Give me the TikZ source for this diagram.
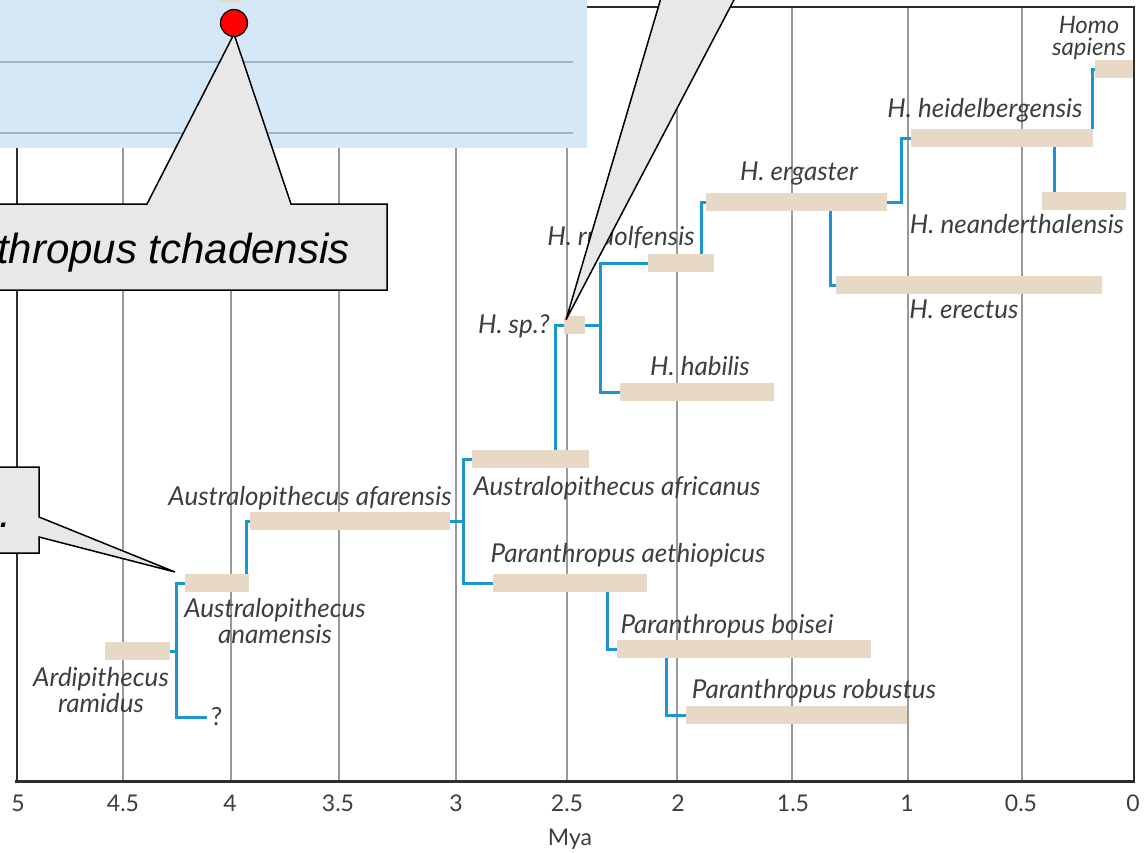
\documentclass[tikz,border=0pt]{standalone}
\usepackage{fontspec}
\setmainfont{Lato}
\newfontfamily\calloutfont{Liberation Sans}
\definecolor{barTan}{RGB}{231,217,197}
\definecolor{linkBlue}{RGB}{27,150,210}
\definecolor{panelBlue}{RGB}{213,232,247}
\definecolor{panelLine}{RGB}{160,180,196}
\definecolor{calloutGray}{RGB}{232,232,232}
\definecolor{labelGray}{RGB}{62,62,62}
\definecolor{frameGray}{RGB}{45,45,45}

\begin{document}
\begin{tikzpicture}[x=1pt,y=-1pt,
bar/.style={fill=barTan,inner sep=0pt,minimum height=18,anchor=west},
link/.style={draw=linkBlue,line width=3pt},
species/.style={labelGray,font=\itshape\fontsize{26}{26}\selectfont,inner sep=0pt,anchor=base},
twoline/.style={species,anchor=center,align=center},
tick/.style={labelGray,font=\fontsize{23}{26}\selectfont,inner sep=0pt,anchor=base},
grid line/.style={draw=gray!80,line width=1.2pt},
callout/.style={fill=calloutGray,draw=black,line width=1.5pt,line join=miter},
callout text/.style={font=\calloutfont\itshape\fontsize{42}{48}\selectfont,inner sep=0pt,anchor=base west}]
\useasboundingbox (0,0) rectangle (1144,852);

% time axis and frame
\foreach \x in {123,231,339,456,567,677,792,908,1022}
  \draw[grid line] (\x,7) -- (\x,781);
\draw[frameGray,line width=2pt] (17,781) -- (17,7) -- (1134,7) -- (1134,781);
\draw[frameGray,line width=3pt] (15,781) -- (1135,781);
\foreach \x/\v [count=\i] in {18/5,123/4.5,230/4,338/3.5,456/3,567/2.5,678/2,793/1.5,907/1,1021/0.5,1133/0}
  \node[tick] (tick\i) at (\x,811) {\v};
\node[tick] (mya) at (570,845) {Mya};

% panel in the top left corner
\fill[panelBlue] (0,0) rectangle (587,148);
\foreach \y in {62,133}
  \draw[panelLine,line width=2.5pt] (0,\y) -- (573,\y);
\fill[barTan] (218,0) rectangle (241,2);

% species ranges
\node[bar,minimum width=65] (ramidus) at (105,651) {};
\node[bar,minimum width=64] (anamensis) at (185,583) {};
\node[bar,minimum width=200] (afarensis) at (250,521) {};
\node[bar,minimum width=117] (africanus) at (472,459) {};
\node[bar,minimum width=154] (aethiopicus) at (493,583) {};
\node[bar,minimum width=254] (boisei) at (617,649) {};
\node[bar,minimum width=221] (robustus) at (686,715) {};
\node[bar,minimum width=21] (hsp) at (564,325) {};
\node[bar,minimum width=154] (habilis) at (620,392) {};
\node[bar,minimum width=66] (rudolfensis) at (648,263) {};
\node[bar,minimum width=181] (ergaster) at (706,202) {};
\node[bar,minimum width=182] (heidelbergensis) at (911,138) {};
\node[bar,minimum width=38] (sapiens) at (1095,69) {};
\node[bar,minimum width=84] (neanderthalensis) at (1042,201) {};
\node[bar,minimum width=266] (erectus) at (836,285) {};
\node[species,anchor=west,font=\fontsize{25}{25}\selectfont] (unknown) at (211,717) {?};

% branches
\coordinate (ardiFork) at (176,651);
\draw[link] (ramidus.east) -- (ardiFork);
\draw[link] (ardiFork) |- (anamensis.west);
\draw[link] (ardiFork) |- ([xshift=-4pt]unknown.west);
\draw[link] ([xshift=-3pt]anamensis.north east) |- (afarensis.west);
\coordinate (afarFork) at (463,521);
\draw[link] (afarensis.east) -- (afarFork);
\draw[link] (afarFork) |- (africanus.west);
\draw[link] (afarFork) |- (aethiopicus.west);
\draw[link] ([xshift=114pt]aethiopicus.south west) |- (boisei.west);
\draw[link] ([xshift=49pt]boisei.south west) |- (robustus.west);
\draw[link] ([xshift=-34pt]africanus.north east) |- (hsp.west);
\coordinate (homoFork) at (600,325);
\draw[link] (hsp.east) -- (homoFork);
\draw[link] (homoFork) |- (rudolfensis.west);
\draw[link] (homoFork) |- (habilis.west);
\draw[link] ([xshift=-13pt]rudolfensis.north east) |- (ergaster.west);
\coordinate (ergFork) at (901,202);
\draw[link] (ergaster.east) -- (ergFork) |- (heidelbergensis.west);
\draw[link] ([xshift=124pt]ergaster.south west) |- (erectus.west);
\draw[link] ([xshift=-1pt]heidelbergensis.north east) |- (sapiens.west);
\coordinate (neanderRoot) at ([xshift=12pt]neanderthalensis.north west);
\draw[link] (neanderRoot) -- (neanderRoot |- heidelbergensis.south);

% names
\node[twoline] (ramidusT) at (101,690) {Ardipithecus\\ramidus};
\node[twoline] (anamensisT) at (275,621) {Australopithecus\\anamensis};
\node[species] (afarensisT) at (310,505) {Australopithecus afarensis};
\node[species] (africanusT) at (617,495) {Australopithecus africanus};
\node[species] (aethiopicusT) at (628,562) {Paranthropus aethiopicus};
\node[species] (boiseiT) at (727,633) {Paranthropus boisei};
\node[species] (robustusT) at (814,698) {Paranthropus robustus};
\node[species,anchor=base east] (hspT) at (550,333) {H. sp.?};
\node[species] (habilisT) at (700,375) {H. habilis};
\node[species] (rudolfensisT) at (621,245) {H. rudolfensis};
\node[species] (ergasterT) at (799,180) {H. ergaster};
\node[species] (heidelbergensisT) at (985,117) {H. heidelbergensis};
\node[species] (neanderthalensisT) at (1017,233) {H. neanderthalensis};
\node[species] (erectusT) at (964,318) {H. erectus};
\node[twoline,font=\itshape\fontsize{24}{22}\selectfont] (sapiensT) at (1089,38) {Homo\\sapiens};

% callouts
\draw[callout] (-2,204) -- (147,204) -- (234,34) -- (291,204) -- (387,204)
  -- (387,290) -- (-2,290) -- cycle;
\node[callout text] (tchadensis) at (-3,263) {thropus tchadensis};
\node[circle,fill=red,draw=black,line width=1.2pt,minimum size=27,inner sep=0pt] (dot) at (234,23) {};
\draw[callout] (661,-2) -- ([xshift=2pt,yshift=-4pt]hsp.north west) -- (735,-2);
\draw[callout] (-2,467) -- (39,467) -- (39,517) -- (175,572) -- (39,537)
  -- (39,553) -- (-2,553) -- cycle;
\node[callout text] (period) at (-1,527) {.};
\end{tikzpicture}
\end{document}
